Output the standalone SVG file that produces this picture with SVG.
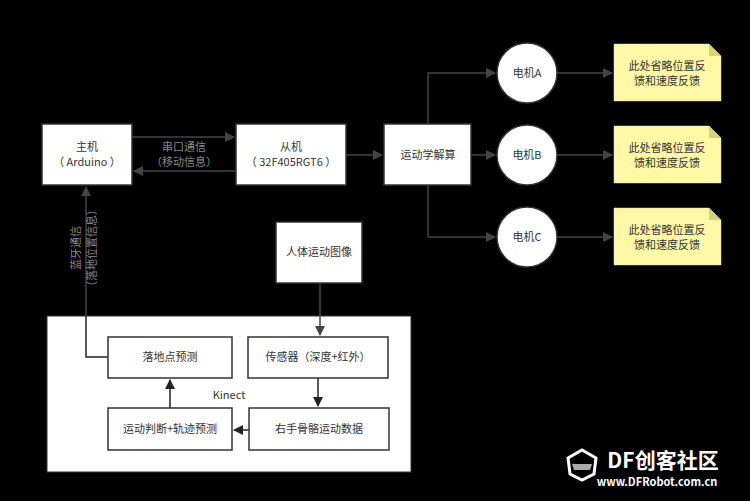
<svg xmlns="http://www.w3.org/2000/svg" width="750" height="501" viewBox="0 0 750 501">
<style>
text{font-family:"Noto Sans CJK SC","Liberation Sans",sans-serif;font-size:11px;fill:#333;text-anchor:middle}
.b{fill:#fff;stroke:#333;stroke-width:1.5}
.n{fill:#fff9a6;stroke:#ddd;stroke-width:0.5}
.c{fill:none;stroke:#444;stroke-width:1.5}
.k{fill:none;stroke:#222;stroke-width:1.5}
.g{fill:#888}
</style>
<defs>
<marker id="a" viewBox="0 0 10 10" refX="9" refY="5" markerWidth="10" markerHeight="10" markerUnits="userSpaceOnUse" orient="auto"><path d="M0,0L10,5L0,10z" fill="#444"/></marker>
<marker id="ak" viewBox="0 0 10 10" refX="9" refY="5" markerWidth="10" markerHeight="10" markerUnits="userSpaceOnUse" orient="auto"><path d="M0,0L10,5L0,10z" fill="#222"/></marker>
</defs>
<rect width="750" height="501" fill="#000"/>
<g id="kinect"><rect x="47" y="316" width="364" height="156" fill="#fff" stroke="#333"/><text x="229" y="399">Kinect</text></g>
<g id="connectors">
<path class="c" d="M132,137H234" marker-end="url(#a)"/>
<path class="c" d="M236,171H134" marker-end="url(#a)"/>
<path class="c" d="M346,155H382" marker-end="url(#a)"/>
<path class="c" d="M428,124V73H495" marker-end="url(#a)"/>
<path class="c" d="M471,155H495" marker-end="url(#a)"/>
<path class="c" d="M428,185V237H495" marker-end="url(#a)"/>
<path class="c" d="M557,73H612" marker-end="url(#a)"/>
<path class="c" d="M557,155H612" marker-end="url(#a)"/>
<path class="c" d="M557,237H612" marker-end="url(#a)"/>
<path class="c" d="M320,283V335" marker-end="url(#a)"/>
<path class="k" d="M318,378V406" marker-end="url(#ak)"/>
<path class="k" d="M249,430H234" marker-end="url(#ak)"/>
<path class="k" d="M170,408V380" marker-end="url(#ak)"/>
<path class="k" d="M108,357H86V316"/>
<path class="c" d="M86,316V187" marker-end="url(#a)"/>
</g>
<g id="labels">
<text class="g" x="184" y="151">串口通信</text>
<text class="g" x="184" y="166">（移动信息）</text>
<text class="g" transform="translate(80,248) rotate(-90)">蓝牙通信</text>
<text class="g" transform="translate(96,248) rotate(-90)">（落地位置信息）</text>
</g>
<g id="host"><rect class="b" x="42" y="124" width="90" height="61"/><text x="87" y="151">主机</text><text x="87" y="166">（ Arduino ）</text></g>
<g id="slave"><rect class="b" x="236" y="124" width="110" height="61"/><text x="291" y="151">从机</text><text x="291" y="166">（ 32F405RGT6 ）</text></g>
<g id="kin"><rect class="b" x="384" y="124" width="87" height="61"/><text x="428" y="159">运动学解算</text></g>
<g id="mA"><circle class="b" cx="527" cy="73" r="30"/><text x="527" y="77">电机A</text></g>
<g id="mB"><circle class="b" cx="527" cy="155" r="30"/><text x="527" y="159">电机B</text></g>
<g id="mC"><circle class="b" cx="527" cy="237" r="30"/><text x="527" y="241">电机C</text></g>
<g id="nA"><path class="n" d="M614,44H709L721,56V101H614z"/><path d="M709,44V56H721z" fill="#d8d27a"/><text x="667" y="70">此处省略位置反</text><text x="667" y="85">馈和速度反馈</text></g>
<g id="nB"><path class="n" d="M614,126H709L721,138V183H614z"/><path d="M709,126V138H721z" fill="#d8d27a"/><text x="667" y="152">此处省略位置反</text><text x="667" y="167">馈和速度反馈</text></g>
<g id="nC"><path class="n" d="M614,208H709L721,220V265H614z"/><path d="M709,208V220H721z" fill="#d8d27a"/><text x="667" y="234">此处省略位置反</text><text x="667" y="249">馈和速度反馈</text></g>
<g id="img"><rect class="b" x="276" y="222" width="86" height="61"/><text x="319" y="256">人体运动图像</text></g>
<g id="landing"><rect class="b" x="108" y="337" width="124" height="41"/><text x="170" y="361">落地点预测</text></g>
<g id="sensor"><rect class="b" x="248" y="337" width="140" height="41"/><text x="318" y="361">传感器（深度+红外）</text></g>
<g id="judge"><rect class="b" x="108" y="408" width="124" height="42"/><text x="170" y="433">运动判断+轨迹预测</text></g>
<g id="data"><rect class="b" x="249" y="408" width="140" height="42"/><text x="319" y="433">右手骨骼运动数据</text></g>
<g id="wm">
<path d="M568,458L582,450L596,458L594,474L582,480L570,474z" fill="none" stroke="#fff" stroke-width="3"/>
<path d="M572,464H592L590,470H574z" fill="#aaa"/>
<text x="663" y="468" style="font-size:21px;fill:#fff;font-weight:bold">DF创客社区</text>
<text x="657" y="486" style="font-size:11px;fill:#fff;font-weight:bold">www.DFRobot.com.cn</text>
</g>
</svg>
